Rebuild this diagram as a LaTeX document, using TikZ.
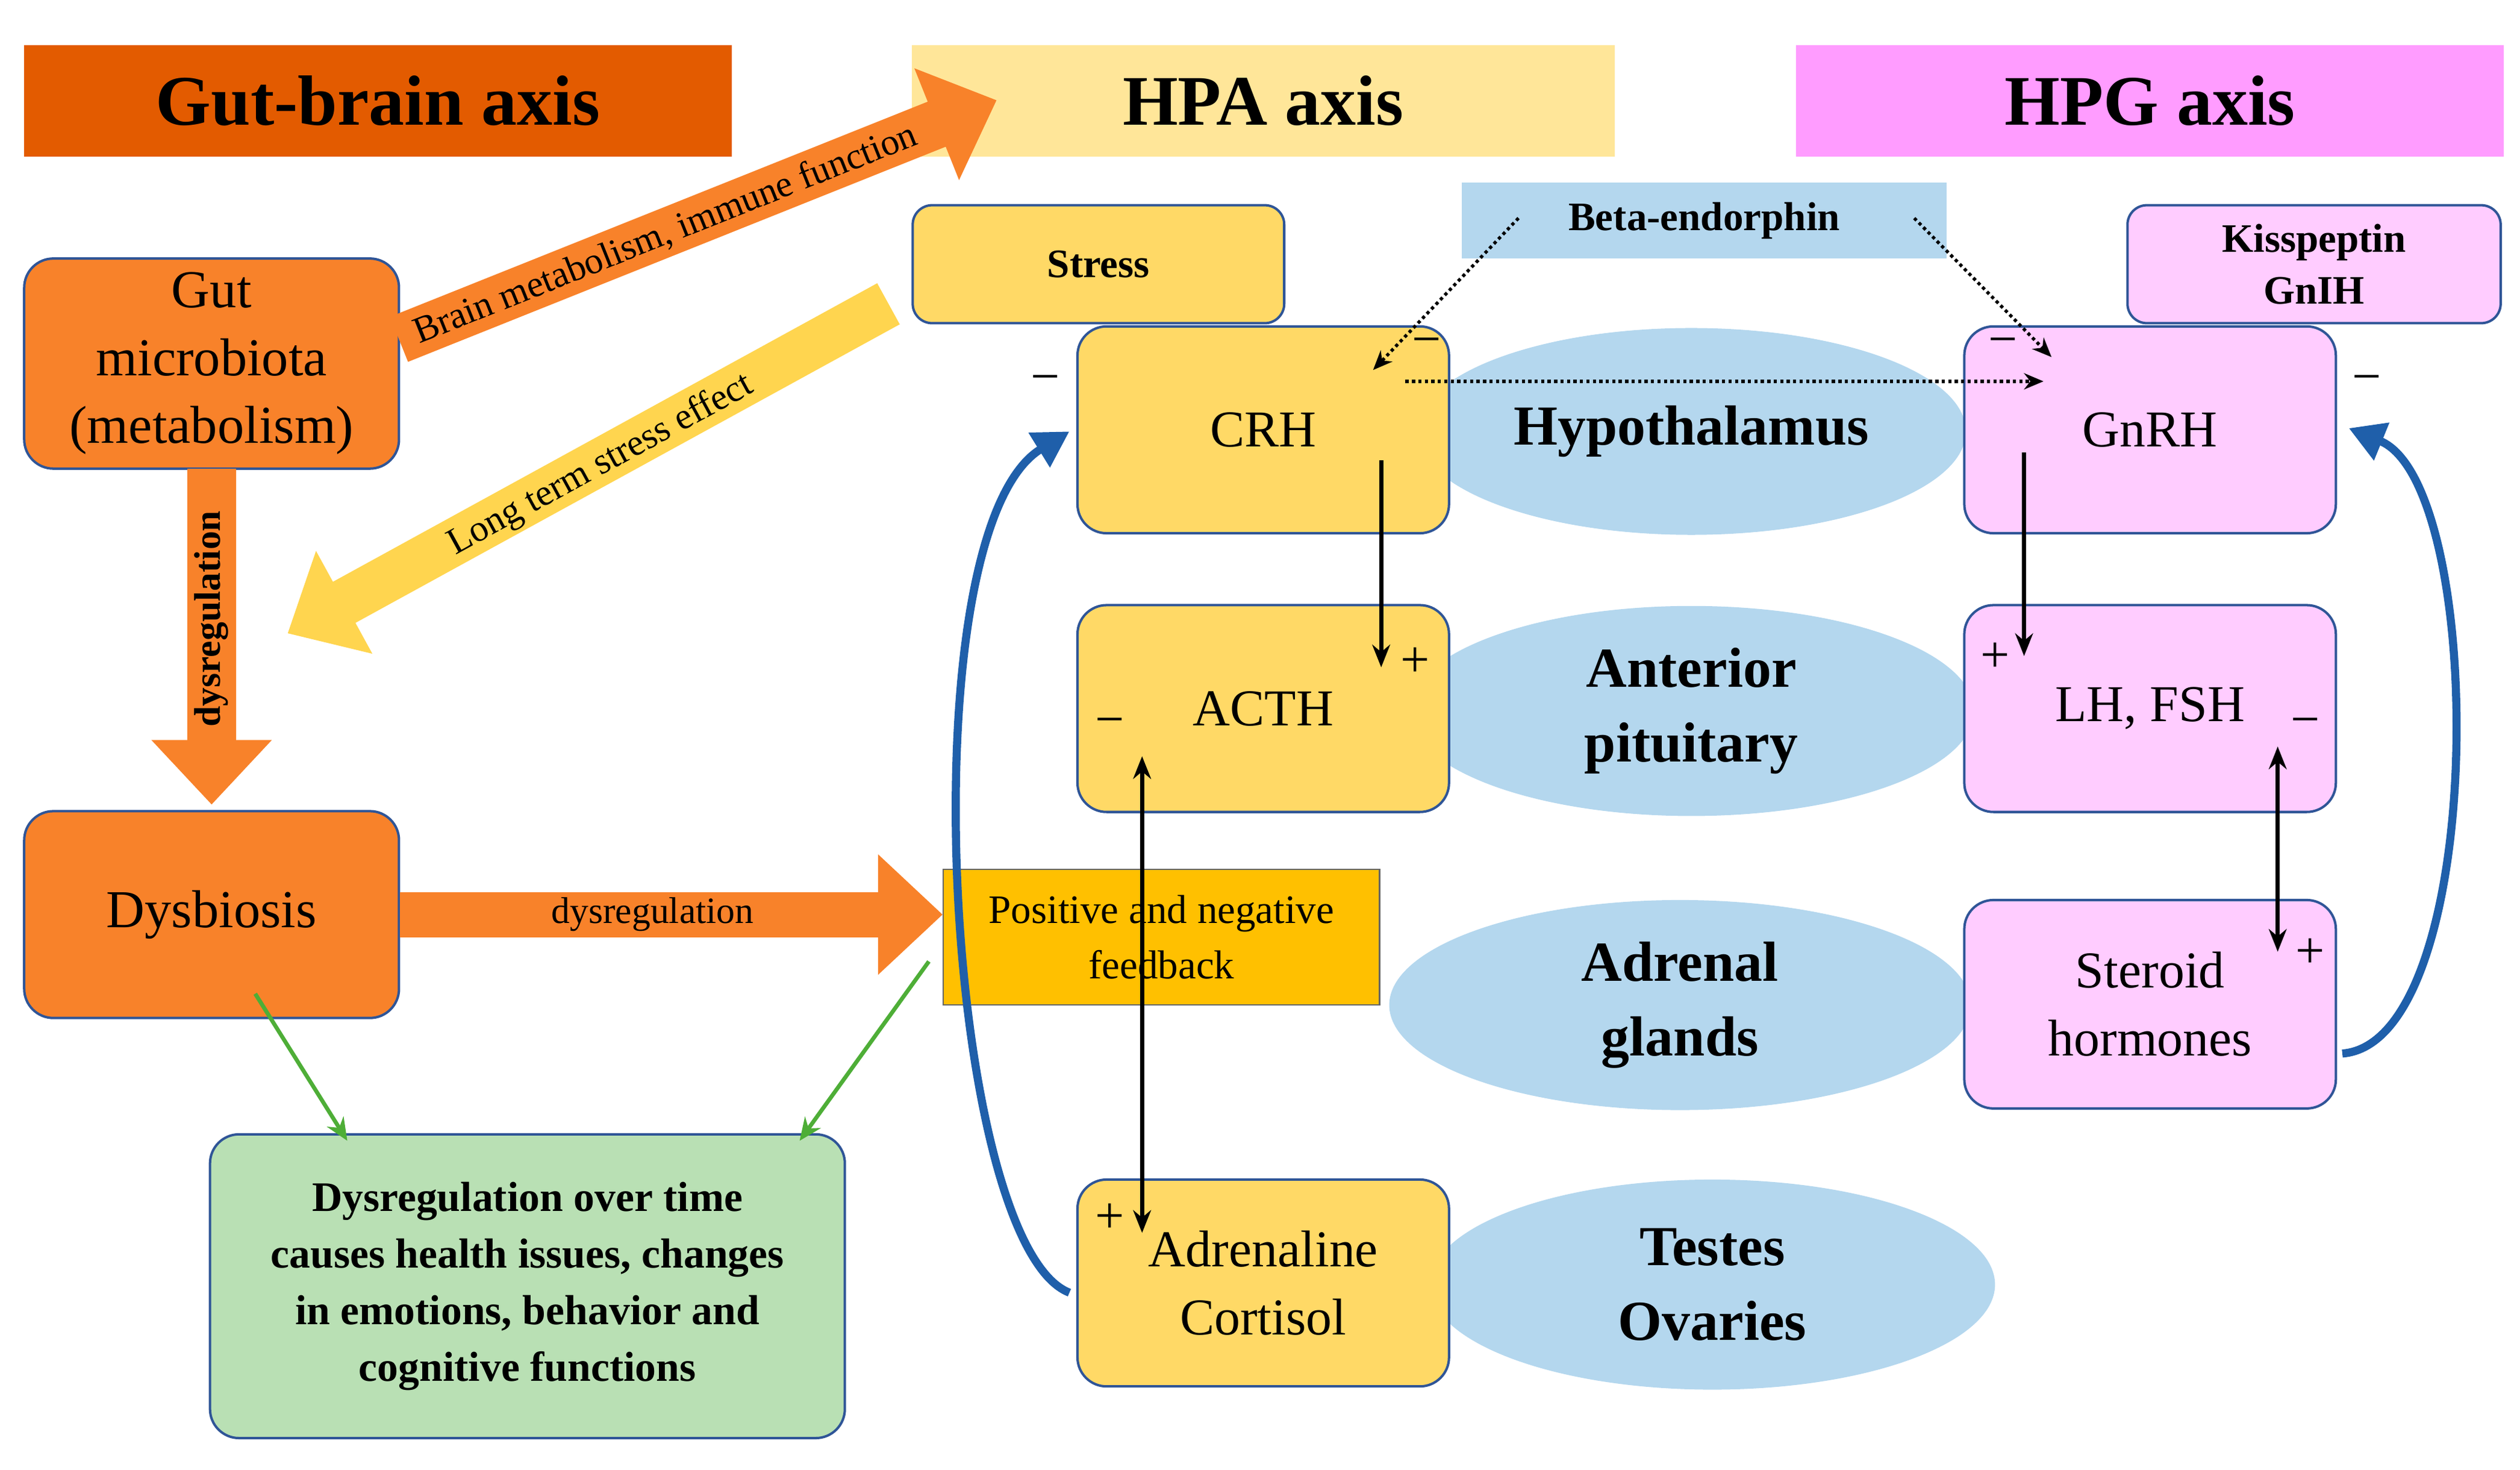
\documentclass[tikz,border=0pt]{standalone}
\usepackage{fontspec}
\setmainfont{Liberation Serif}
\usetikzlibrary{arrows.meta,shapes.geometric}
\definecolor{gbo}{HTML}{E35B00}
\definecolor{hpay}{HTML}{FFE699}
\definecolor{hpgp}{HTML}{FF9CFF}
\definecolor{orb}{HTML}{F8822A}
\definecolor{yb}{HTML}{FFD966}
\definecolor{pb}{HTML}{FFCCFF}
\definecolor{gb}{HTML}{B9E0B4}
\definecolor{eb}{HTML}{B4D7EE}
\definecolor{bd}{HTML}{2F5597}
\definecolor{fb}{HTML}{FFC000}
\definecolor{ga}{HTML}{4EAE37}
\definecolor{ca}{HTML}{1F5FAA}
\definecolor{ya}{HTML}{FFD54F}
\begin{document}
\begin{tikzpicture}[x=1pt,y=-1pt,
 banner/.style={draw=none,minimum height=69pt,font=\fontsize{44}{48}\selectfont\bfseries,inner sep=0},
 rb/.style={draw=bd,line width=1.5pt,rounded corners=18pt,minimum width=230pt,minimum height=128pt,align=center,inner sep=2pt},
 ell/.style={ellipse,fill=eb,draw=none,align=center,font=\fontsize{35}{46}\selectfont\bfseries},
 sign/.style={font=\fontsize{32}{34}\selectfont},
 blk/.style={line width=2.5pt,-{Stealth[length=14pt,width=11pt]}},
 dbl/.style={line width=2.5pt,{Stealth[length=14pt,width=11pt]}-{Stealth[length=14pt,width=11pt]}},
 dots/.style={line width=2pt,dotted,-{Stealth[length=12pt,width=10pt]}},
 grn/.style={draw=ga,line width=2.5pt,-{Stealth[length=14pt,width=12pt]}},
 cur/.style={draw=ca,line width=5pt,-{Triangle[length=22pt,width=24pt]}},
 fat/.style={line width=30pt,-{Triangle[length=40pt,width=72pt]}},
 lab/.style={font=\fontsize{23}{25}\selectfont}
]
\useasboundingbox (0,0) rectangle (1560,909.4);
% banners
\node[banner,fill=gbo,minimum width=438pt] (gba) at (234,62.5) {Gut-brain axis};
\node[banner,fill=hpay,minimum width=435pt] (hpa) at (782,62.5) {HPA axis};
\node[banner,fill=hpgp,minimum width=438pt] (hpg) at (1331,62.5) {HPG axis};
% ellipses
\node[ell,minimum width=340pt,minimum height=128pt] (hyp) at (1047,267) {Hypothalamus};
\node[ell,minimum width=350pt,minimum height=130pt] (ant) at (1047,440) {Anterior\\pituitary};
\node[ell,minimum width=360pt,minimum height=130pt] (adr) at (1040,622) {Adrenal\\glands};
\node[ell,minimum width=350pt,minimum height=130pt] (tes) at (1060,795) {Testes\\Ovaries};
% gut side
\node[rb,fill=orb,minimum width=232pt,minimum height=130pt,font=\fontsize{33}{42}\selectfont] (gut) at (131,225) {Gut\\microbiota\\(metabolism)};
\node[rb,fill=orb,minimum width=232pt,font=\fontsize{33}{40}\selectfont] (dys) at (131,566) {Dysbiosis};
\node[rb,fill=gb,minimum width=393pt,minimum height=188pt,font=\fontsize{26}{35}\selectfont\bfseries] (grn) at (326.5,796) {Dysregulation over time\\causes health issues, changes\\in emotions, behavior and\\cognitive functions};
% HPA
\node[rb,fill=yb,minimum height=73pt,rounded corners=12pt,font=\fontsize{25}{28}\selectfont\bfseries] (str) at (680,163.5) {Stress};
\node[rb,fill=yb,font=\fontsize{32}{40}\selectfont] (crh) at (782,266) {CRH};
\node[rb,fill=yb,font=\fontsize{32}{40}\selectfont] (acth) at (782,438.5) {ACTH};
\node[rb,fill=yb,font=\fontsize{32}{42}\selectfont] (cort) at (782,794) {Adrenaline\\Cortisol};
\node[draw=none,fill=eb,minimum width=300pt,minimum height=47pt,font=\fontsize{25}{28}\selectfont\bfseries] (beta) at (1055,136.5) {Beta-endorphin};
% HPG
\node[rb,fill=pb,minimum width=231pt,minimum height=73pt,rounded corners=12pt,font=\fontsize{25}{32}\selectfont\bfseries] (kiss) at (1432.5,163.5) {Kisspeptin\\GnIH};
\node[rb,fill=pb,font=\fontsize{32}{40}\selectfont] (gnrh) at (1331,266) {GnRH};
\node[rb,fill=pb,font=\fontsize{32}{40}\selectfont] (lh) at (1331,438.5) {LH, FSH};
\node[rb,fill=pb,minimum height=129pt,font=\fontsize{32}{42}\selectfont] (ster) at (1331,621.5) {Steroid\\hormones};
% fat arrows
\coordinate (a1s) at (247,210); \coordinate (a1e) at (617,62);
\draw[fat,draw=orb,fill=orb] (a1s) -- (a1e);
\node[lab,rotate=21.8] at (412,145) {Brain metabolism, immune function};
\coordinate (a2s) at (550,188); \coordinate (a2e) at (178,392);
\draw[line width=29pt,draw=ya,-{Triangle[length=40pt,width=70pt]}] (a2s) -- (a2e);
\node[lab,rotate=28.7] at (372,288) {Long term stress effect};
\coordinate (a3s) at (131,290); \coordinate (a3e) at (131,498);
\draw[fat,draw=orb] (a3s) -- (a3e);
\node[rotate=90,font=\fontsize{23}{24}\selectfont\bfseries] at (131,383) {dysregulation};
\node[draw=black!60,line width=0.8pt,fill=fb,minimum width=270pt,minimum height=84pt,align=center,font=\fontsize{25}{34}\selectfont] (fbk) at (719,580) {Positive and negative\\feedback};
\coordinate (fin) at (fbk.west |- dys.east);
\draw[fat,draw=orb,line width=28pt] (dys.east) -- (fin);
\node[lab] at (404,566) {dysregulation};
% green arrows
\coordinate (g1) at (158,615); \coordinate (g2) at (575,595);
\draw[grn] (g1) -- (215,706);
\draw[grn] (g2) -- (495,706);
% black arrows
\coordinate (c1) at (855,285); \coordinate (c2) at (855,413);
\draw[blk] (c1) -- (c2);
\coordinate (d1) at (707,468); \coordinate (d2) at (707,763);
\draw[dbl] (d1) -- (d2);
\coordinate (e1) at (1253,280); \coordinate (e2) at (1253,406);
\draw[blk] (e1) -- (e2);
\coordinate (f1) at (1410,462); \coordinate (f2) at (1410,589);
\draw[dbl] (f1) -- (f2);
% dotted
\coordinate (b1) at (940,135); \coordinate (b2) at (1185,135);
\draw[dots] (b1) -- (850,229);
\draw[dots] (b2) -- (1270,221);
\coordinate (h1) at (870,236); \coordinate (h2) at (1265,236);
\draw[dots] (h1) -- (h2);
% curved blue
\coordinate (k1) at (662,800); \coordinate (k2) at (1450,652);
\draw[cur] (k1) .. controls (585,770) and (560,330) .. (662,267);
\draw[cur] (k2) .. controls (1540,645) and (1540,300) .. (1454,265);
% signs
\node[sign] at (647,238) {\textminus};
\node[sign] at (883,215) {\textminus};
\node[sign] at (876,410) {+};
\node[sign] at (687,450) {\textminus};
\node[sign] at (687,754) {+};
\node[sign] at (1240,215) {\textminus};
\node[sign] at (1465,238) {\textminus};
\node[sign] at (1235,407) {+};
\node[sign] at (1427,450) {\textminus};
\node[sign] at (1430,590) {+};
\end{tikzpicture}
\end{document}
